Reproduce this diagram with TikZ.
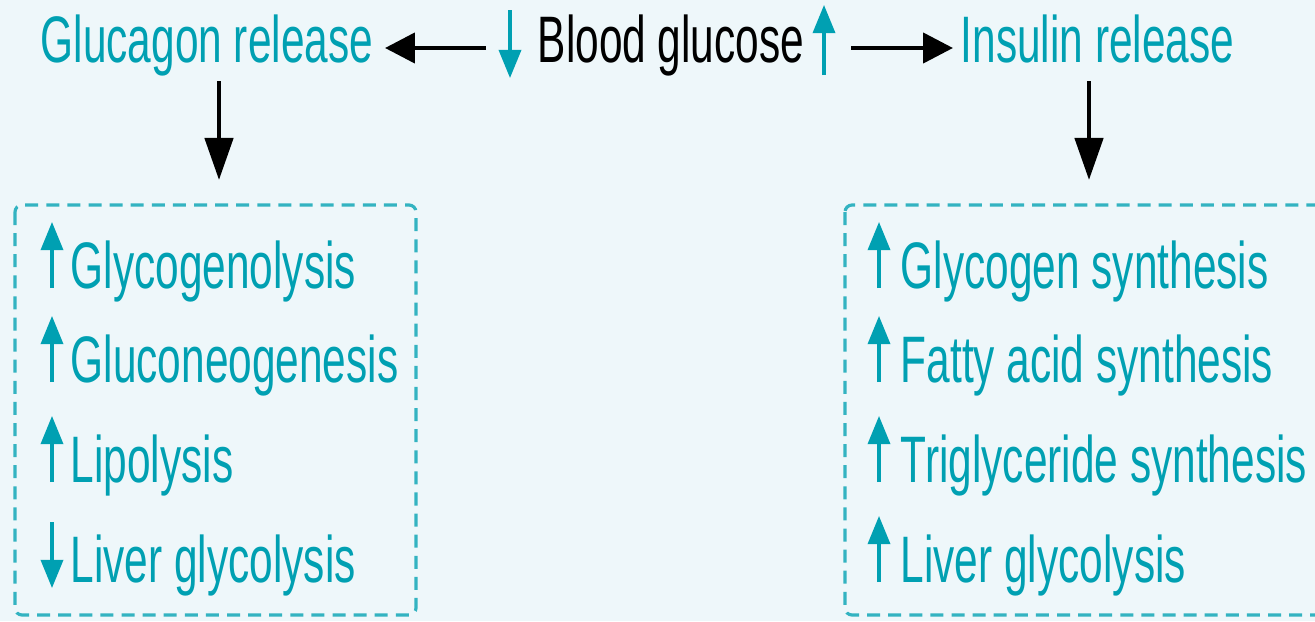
\documentclass[tikz,border=0pt]{standalone}
\usepackage{fontspec}
\setmainfont[FakeStretch=0.645]{Liberation Sans}
\usetikzlibrary{arrows.meta}
\definecolor{bg}{RGB}{238,247,250}
\definecolor{tl}{RGB}{0,160,178}
\begin{document}
\begin{tikzpicture}[x=0.01cm,y=-0.01cm,
  lbl/.style={inner sep=0, anchor=base west, font=\fontsize{18.7pt}{22pt}\selectfont},
  tlbl/.style={lbl, text=tl},
  blk/.style={line width=1.25pt, -{Triangle[length=8.5pt,width=8.5pt]}},
  blkv/.style={line width=1.3pt, -{Triangle[length=12pt,width=8pt]}},
  ind/.style={tl, line width=0.9pt, -{Triangle[length=8pt,width=6.3pt]}},
  dbox/.style={tl!80, line width=0.9pt, dash pattern=on 3.7pt off 2.3pt, rounded corners=2pt}]
\fill[bg] (0,0) rectangle (1315,621);
\useasboundingbox (0,0) rectangle (1315,621);
\clip (0,0) rectangle (1315,621);

% top row
\node[tlbl] (glucagon) at (40,62.7) {Glucagon release};
\node[lbl]  (blood)    at (537,62.7) {Blood glucose};
\node[tlbl] (insulin)  at (960,62.7) {Insulin release};

% indicator arrows beside blood glucose
\coordinate (bdA) at (510,10);  \coordinate (bdB) at (510,78);
\draw[ind] (bdA) -- (bdB);
\coordinate (buA) at (824,75);  \coordinate (buB) at (824,5);
\draw[ind] (buA) -- (buB);

% horizontal connectors
\coordinate (la) at (486,48); \coordinate (lt) at (385,48);
\draw[blk] (la) -- (lt);
\coordinate (ra) at (851,48); \coordinate (rt) at (953,48);
\draw[blk] (ra) -- (rt);

% vertical connectors
\coordinate (gd) at (219,81); \coordinate (gt) at (219,180);
\draw[blkv] (gd) -- (gt);
\coordinate (id) at (1089,81); \coordinate (it) at (1089,180);
\draw[blkv] (id) -- (it);

% boxes
\draw[dbox] (15,205) rectangle (416,615);
\draw[dbox] (845,205) rectangle (1345,615);

% left items
\node[tlbl] (L1) at (70,288) {Glycogenolysis};
\node[tlbl] (L2) at (70,382) {Gluconeogenesis};
\node[tlbl] (L3) at (70,482) {Lipolysis};
\node[tlbl] (L4) at (70,582) {Liver glycolysis};
\draw[ind] (52,288) -- (52,222);
\draw[ind] (52,382) -- (52,316);
\draw[ind] (52,482) -- (52,416);
\draw[ind] (52,522) -- (52,588);

% right items
\node[tlbl] (R1) at (900,288) {Glycogen synthesis};
\node[tlbl] (R2) at (900,382) {Fatty acid synthesis};
\node[tlbl] (R3) at (900,482) {Triglyceride synthesis};
\node[tlbl] (R4) at (900,582) {Liver glycolysis};
\draw[ind] (879,288) -- (879,222);
\draw[ind] (879,382) -- (879,316);
\draw[ind] (879,482) -- (879,416);
\draw[ind] (879,582) -- (879,516);
\end{tikzpicture}
\end{document}
